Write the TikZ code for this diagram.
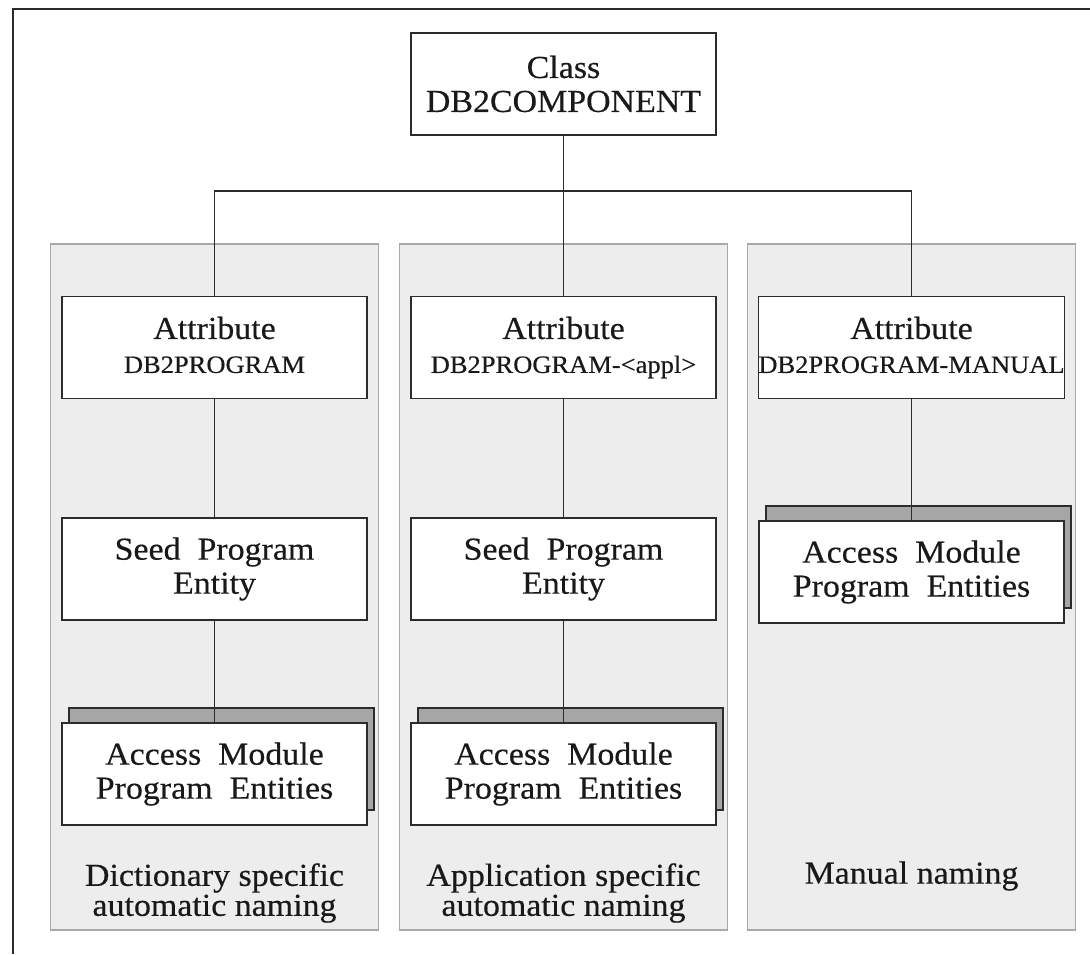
\documentclass[tikz,border=0pt]{standalone}
\usepackage{fontspec}
\setmainfont{Liberation Serif}[FakeStretch=1.06,FakeBold=0.4]
\usetikzlibrary{shadows}
\definecolor{panelgray}{HTML}{EDEDED}
\definecolor{panelline}{HTML}{A8A8A8}
\definecolor{shadegray}{HTML}{A6A6A6}
\definecolor{inkline}{HTML}{2E2B2C}
\newcommand{\attrname}[1]{{\fontsize{25}{34}\selectfont #1\vphantom{p}}}

\begin{document}
\begin{tikzpicture}[x=1pt,y=-1pt,inner sep=0pt,text=black!90,
  box/.style={draw=inkline,line width=1.6pt,fill=white,minimum width=305pt,
    minimum height=102pt,align=center,font=\fontsize{32}{34}\selectfont},
  stack/.style={box,copy shadow={shadow xshift=7pt,shadow yshift=15pt,
    fill=shadegray,draw=inkline,line width=1.6pt,opacity=1}},
  panel/.style={draw=panelline,line width=1.2pt,fill=panelgray,
    minimum width=328pt,minimum height=686pt},
  caption/.style={align=center,font=\fontsize{32}{30}\selectfont},
  link/.style={draw=inkline,line width=1.4pt}]
\useasboundingbox (0,0) rectangle (1090,954);
\draw[line width=1.5pt,inkline] (13,954) -- (13,9) -- (1090,9);
% the three naming panels
\node[panel] (pdict) at (214.5,587) {};
\node[panel] (pappl) at (563.5,587) {};
\node[panel] (pman) at (911.5,587) {};
\node[caption] (cdict) at (214.5,893) {Dictionary specific\\automatic naming};
\node[caption] (cappl) at (563.5,893) {Application specific\\automatic naming};
\node[caption] (cman) at (911.5,876) {Manual naming};
% boxes
\node[box] (class) at (563.5,84) {Class\\DB2COMPONENT};
\node[box] (adict) at (214.5,347.5) {Attribute\\\attrname{DB2PROGRAM}};
\node[box] (aappl) at (563.5,347.5) {Attribute\\\attrname{DB2PROGRAM-<appl>}};
\node[box] (aman) at (911.5,347.5) {Attribute\\\attrname{DB2PROGRAM-MANUAL}};
\node[box] (sdict) at (214.5,569) {Seed~~Program\\Entity};
\node[box] (sappl) at (563.5,569) {Seed~~Program\\Entity};
\node[stack] (mdict) at (214.5,774) {Access~~Module\\Program~~Entities};
\node[stack] (mappl) at (563.5,774) {Access~~Module\\Program~~Entities};
\node[stack] (mman) at (911.5,572) {Access~~Module\\Program~~Entities};
% connectors
\coordinate (fork) at (563.5,191);
\draw[link] (adict.north) |- (fork) -| (aman.north);
\path[link]
(class) edge (fork)
(fork) edge (aappl)
(adict) edge (sdict)
(sdict) edge (mdict)
(aappl) edge (sappl)
(sappl) edge (mappl)
(aman) edge (mman);
\end{tikzpicture}
\end{document}
